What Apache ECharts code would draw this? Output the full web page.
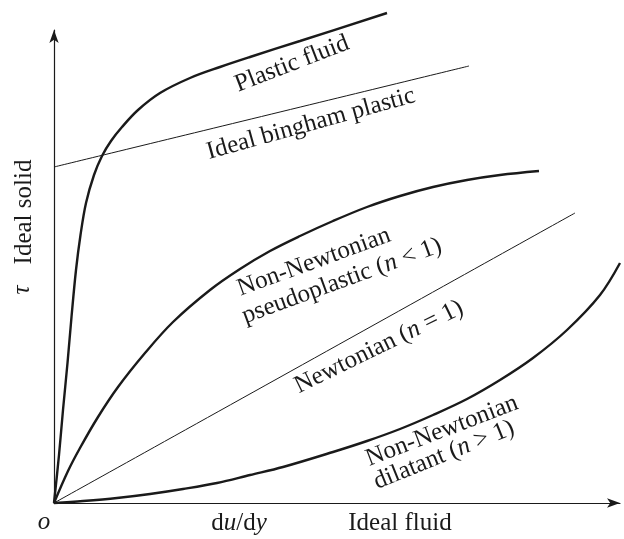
<!DOCTYPE html>
<html>
<head>
<meta charset="utf-8">
<script src="https://cdn.jsdelivr.net/npm/echarts@6/dist/echarts.min.js"></script>
<style>
  html, body { margin: 0; padding: 0; background: #fff; }
  #chart { width: 624px; height: 539px; }
</style>
</head>
<body>
<div id="chart"></div>
<script>
// shear rate du/dy (x) vs shear stress tau (y), arbitrary units
const plasticFluid = [[0, 0], [5, 48], [9, 93], [13.5, 140], [17.5, 186], [22, 233], [26.5, 268],
  [32, 300], [40, 328], [48, 347], [57, 362], [68, 376], [84, 393], [106, 410], [136, 425],
  [166, 436], [196, 446], [246, 462], [333, 490]];
const binghamPlastic = [[0, 336], [415, 437]];
const pseudoplastic = [[0, 0], [14, 32], [26, 55], [44, 86], [64, 116], [91, 150], [119, 181],
  [156, 213], [186, 234], [216, 252], [246, 267], [279, 282], [313, 296], [346, 307], [379, 316],
  [413, 323], [446, 328], [485, 332]];
const newtonian = [[0, 0], [521, 290]];
const dilatant = [[0, 0], [29, 2], [63, 5], [96, 9], [129, 14], [163, 20], [196, 28], [229, 36],
  [279, 51], [313, 62], [346, 74], [379, 88], [413, 104], [446, 123], [479, 145], [513, 173],
  [546, 208], [566, 240]];

const ink = '#1a1a1a';
const serif = '"Liberation Serif", "DejaVu Serif", serif';
const fontSize = 25;

function curve (name, data, width) {
  return {
    name: name,
    type: 'line',
    data: data,
    showSymbol: false,
    smooth: 0.35,
    clip: false,
    lineStyle: { color: ink, width: width }
  };
}

// rich text so that the variable n can be set in italics
function label (x, y, deg, text, italic) {
  return {
    type: 'text',
    x: x,
    y: y,
    rotation: deg * Math.PI / 180,
    style: {
      text: text,
      rich: { i: { font: 'italic ' + fontSize + 'px ' + serif, fill: ink } },
      fill: ink,
      font: (italic ? 'italic ' : '') + fontSize + 'px ' + serif,
      align: 'center',
      verticalAlign: 'middle'
    }
  };
}

const axisCommon = {
  type: 'value',
  min: 0,
  axisLabel: { show: false },
  axisTick: { show: false },
  splitLine: { show: false },
  axisLine: { lineStyle: { color: ink, width: 1.2 }, symbol: ['none', 'arrow'], symbolSize: [7, 13] }
};

const option = {
  animation: false,
  backgroundColor: '#fff',
  grid: { left: 54, right: 4, top: 30, bottom: 36 },
  xAxis: Object.assign({}, axisCommon, { max: 566 }),
  yAxis: Object.assign({}, axisCommon, { max: 473 }),
  series: [
    curve('Plastic fluid', plasticFluid, 2.4),
    curve('Ideal bingham plastic', binghamPlastic, 1),
    curve('pseudoplastic', pseudoplastic, 2.4),
    curve('Newtonian', newtonian, 1),
    curve('dilatant', dilatant, 2.4)
  ],
  graphic: [
    label(44, 522, 0, 'o', true),
    label(239, 523, 0, 'd{i|u}/d{i|y}'),
    label(400, 523, 0, 'Ideal fluid'),
    label(22, 290, 90, 'τ', true),
    label(24, 212, 90, 'Ideal solid'),
    label(292, 64, 21, 'Plastic fluid'),
    label(311, 124, 15.5, 'Ideal bingham plastic'),
    label(314, 262, 20, 'Non-Newtonian'),
    label(342, 281, 20, 'pseudoplastic ({i|n} < 1)'),
    label(379, 347, 26, 'Newtonian ({i|n} = 1)'),
    label(442, 431, 21, 'Non-Newtonian'),
    label(444, 455, 22, 'dilatant ({i|n} > 1)')
  ]
};

const myChart = echarts.init(document.getElementById('chart'));
myChart.setOption(option);
</script>
</body>
</html>
